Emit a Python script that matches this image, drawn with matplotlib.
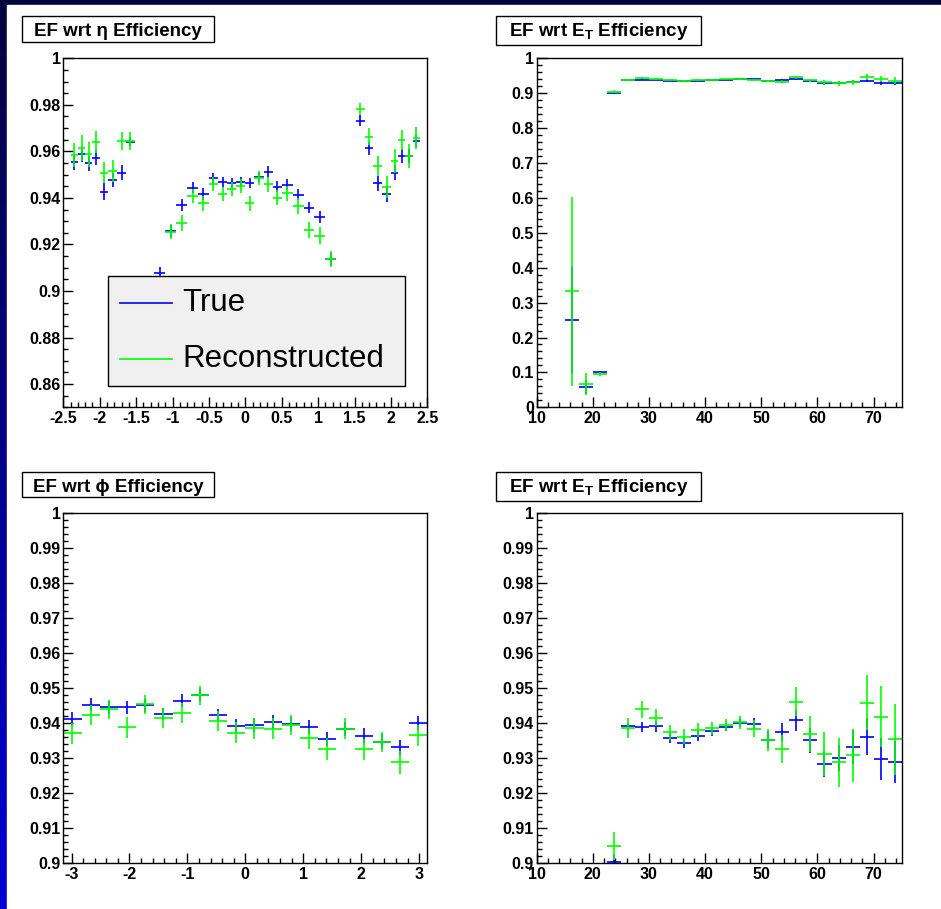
import numpy as np
import matplotlib
matplotlib.use('Agg')
import matplotlib.pyplot as plt
from matplotlib.patches import Rectangle
from matplotlib.lines import Line2D
from matplotlib.ticker import MultipleLocator, FuncFormatter

plt.rcParams['font.family'] = ['Liberation Sans', 'DejaVu Sans']
plt.rcParams['mathtext.fontset'] = 'custom'
plt.rcParams['mathtext.rm'] = 'Liberation Sans:bold'
plt.rcParams['mathtext.bf'] = 'Liberation Sans:bold'
plt.rcParams['mathtext.it'] = 'Liberation Sans:bold:italic'

W, H = 941, 909

# eta binning (crack bins have no points)
eta_edges = [-2.4, -2.3, -2.2, -2.1, -2.0, -1.88, -1.76, -1.64, -1.52, -1.25,
             -1.1, -0.95, -0.8, -0.65, -0.5, -0.375, -0.25, -0.125, 0.0,
             0.125, 0.25, 0.375, 0.5, 0.65, 0.8, 0.95, 1.1, 1.25, 1.52,
             1.64, 1.76, 1.88, 2.0, 2.1, 2.2, 2.3, 2.4]
eta_true = [0.9556, 0.9587, 0.9549, 0.9573, 0.9427, 0.9477, 0.9509, 0.9642, np.nan,
            0.9079, 0.9259, 0.9370, 0.9444, 0.9417, 0.9484, 0.9467, 0.9463, 0.9467,
            0.9463, 0.9491, 0.9513, 0.9448, 0.9456, 0.9413, 0.9358, 0.9317, 0.9136,
            np.nan, 0.9732, 0.9613, 0.9463, 0.9415, 0.9509, 0.9580, 0.9580, 0.9646]
eta_true_err = [0.0034, 0.0032, 0.0032, 0.0032, 0.0036, 0.0032, 0.0032, 0.0020, np.nan,
                0.0025, 0.0025, 0.0025, 0.0023, 0.0024, 0.0022, 0.0022, 0.0022, 0.0022,
                0.0022, 0.0022, 0.0022, 0.0023, 0.0024, 0.0024, 0.0025, 0.0026, 0.0026,
                np.nan, 0.0023, 0.0028, 0.0032, 0.0033, 0.0032, 0.0030, 0.0030, 0.0026]
eta_reco = [0.9585, 0.9616, 0.9587, 0.9640, 0.9509, 0.9516, 0.9645, 0.9645, np.nan,
            0.8990, 0.9255, 0.9292, 0.9408, 0.9377, 0.9458, 0.9417, 0.9437, 0.9451,
            0.9377, 0.9484, 0.9458, 0.9401, 0.9420, 0.9365, 0.9262, 0.9238, 0.9136,
            np.nan, 0.9782, 0.9663, 0.9539, 0.9446, 0.9559, 0.9649, 0.9580, 0.9656]
eta_reco_err = [0.0053, 0.0056, 0.0053, 0.0046, 0.0046, 0.0047, 0.0040, 0.0039, np.nan,
                0.0040, 0.0033, 0.0033, 0.0032, 0.0033, 0.0030, 0.0030, 0.0030, 0.0030,
                0.0032, 0.0030, 0.0032, 0.0033, 0.0033, 0.0033, 0.0036, 0.0037, 0.0035,
                np.nan, 0.0026, 0.0036, 0.0043, 0.0047, 0.0051, 0.0043, 0.0050, 0.0047]

# phi binning: 20 bins over -pi..pi
phi_edges = np.linspace(-np.pi, np.pi, 21)
phi_true = [0.9411, 0.9452, 0.9445, 0.9445, 0.9450, 0.9425, 0.9464, 0.9481, 0.9422, 0.9391,
            0.9393, 0.9404, 0.9398, 0.9388, 0.9354, 0.9383, 0.9364, 0.9346, 0.9330, 0.9401]
phi_true_err = [0.0019, 0.0019, 0.0019, 0.0019, 0.0019, 0.0018, 0.0019, 0.0018, 0.0019, 0.0020,
                0.0020, 0.0020, 0.0020, 0.0020, 0.0021, 0.0020, 0.0021, 0.0021, 0.0021, 0.0020]
phi_reco = [0.9370, 0.9423, 0.9439, 0.9387, 0.9453, 0.9415, 0.9428, 0.9479, 0.9406, 0.9372,
            0.9385, 0.9384, 0.9394, 0.9356, 0.9326, 0.9383, 0.9324, 0.9346, 0.9287, 0.9365]
phi_reco_err = [0.0029, 0.0029, 0.0028, 0.0029, 0.0028, 0.0029, 0.0029, 0.0027, 0.0029, 0.0030,
                0.0030, 0.0030, 0.0029, 0.0030, 0.0031, 0.0030, 0.0031, 0.0029, 0.0032, 0.0030]

# ET binning: 2.5 GeV bins from 10 to 75
et_edges = np.arange(10.0, 75.1, 2.5)
et_true = [np.nan, np.nan, 0.250, 0.059, 0.1003, 0.9003, 0.9391, 0.9389, 0.9390, 0.9358,
           0.9342, 0.9363, 0.9376, 0.9388, 0.9401, 0.9397, 0.9352, 0.9374, 0.9407, 0.9350,
           0.9283, 0.9300, 0.9331, 0.9361, 0.9296, 0.9289]
et_true_err = [np.nan, np.nan, 0.153, 0.020, 0.004, 0.002, 0.0010, 0.0015, 0.0015, 0.0014,
               0.0014, 0.0014, 0.0013, 0.0012, 0.0013, 0.0018, 0.0024, 0.0026, 0.0030, 0.0035,
               0.0038, 0.0038, 0.0048, 0.0052, 0.0060, 0.0060]
et_reco = [np.nan, np.nan, 0.333, 0.066, 0.0955, 0.9048, 0.9386, 0.9439, 0.9415, 0.9373,
           0.9361, 0.9380, 0.9385, 0.9393, 0.9402, 0.9384, 0.9352, 0.9325, 0.9461, 0.9368,
           0.9311, 0.9288, 0.9308, 0.9458, 0.9418, 0.9353]
et_reco_err = [np.nan, np.nan, 0.271, 0.032, 0.006, 0.004, 0.0029, 0.0025, 0.0024, 0.0021,
               0.0021, 0.0021, 0.0019, 0.0017, 0.0019, 0.0023, 0.0031, 0.0040, 0.0042, 0.0052,
               0.0064, 0.0070, 0.0076, 0.0078, 0.0088, 0.0102]

BLUE = '#0000ff'
GREEN = '#00ff00'

fig = plt.figure(figsize=(W / 100, H / 100), dpi=100)

# slide background: blue gradient with white page on top
bg = fig.add_axes([0, 0, 1, 1], zorder=-10)
grad = np.linspace(0, 1, 256)[:, None, None]
top_col = np.array([0.02, 0.02, 0.24])
bot_col = np.array([0.0, 0.0, 0.84])
bg.imshow(top_col + grad * (bot_col - top_col), extent=[0, 1, 0, 1], aspect='auto')
bg.add_patch(Rectangle((7 / W, 0), 1, 1 - 5 / H, color='white'))
bg.set_xlim(0, 1)
bg.set_ylim(0, 1)
bg.axis('off')


def px_axes(x0, y0, x1, y1):
    return fig.add_axes([x0 / W, 1 - y1 / H, (x1 - x0) / W, (y1 - y0) / H])


def fig_box(x0, y0, x1, y1, fc='white'):
    fig.patches.append(Rectangle((x0 / W, 1 - y1 / H), (x1 - x0) / W, (y1 - y0) / H,
                                 transform=fig.transFigure, facecolor=fc,
                                 edgecolor='black', linewidth=1.0, zorder=5))


fmt = FuncFormatter(lambda v, p: '%g' % (round(v, 4) + 0.0))


def style(ax, xlim, ylim, xmaj, xmin, ymaj, ymin):
    ax.set_xlim(*xlim)
    ax.set_ylim(*ylim)
    ax.xaxis.set_major_locator(MultipleLocator(xmaj))
    ax.xaxis.set_minor_locator(MultipleLocator(xmin))
    ax.yaxis.set_major_locator(MultipleLocator(ymaj))
    ax.yaxis.set_minor_locator(MultipleLocator(ymin))
    ax.xaxis.set_major_formatter(fmt)
    ax.yaxis.set_major_formatter(fmt)
    ax.tick_params(which='both', direction='in', top=False, right=False, width=1.0)
    ax.tick_params(which='major', length=7.5, labelsize=11.5, pad=2)
    ax.tick_params(axis='x', which='major', pad=3)
    ax.tick_params(which='minor', length=3.8)
    for lab in ax.get_xticklabels() + ax.get_yticklabels():
        lab.set_fontweight('bold')
    for sp in ax.spines.values():
        sp.set_linewidth(1.0)


def draw_eff(ax, edges, true, true_err, reco, reco_err):
    e = np.asarray(edges, dtype=float)
    c = 0.5 * (e[1:] + e[:-1])
    hw = 0.5 * (e[1:] - e[:-1])
    ax.errorbar(c, true, xerr=hw, yerr=true_err, fmt='none', ecolor=BLUE,
                elinewidth=1.2, capsize=0)
    ax.errorbar(c, reco, xerr=hw, yerr=reco_err, fmt='none', ecolor=GREEN,
                elinewidth=1.2, capsize=0)


# top left: eta
ax1 = px_axes(63.3, 58.3, 427.3, 407.3)
draw_eff(ax1, eta_edges, eta_true, eta_true_err, eta_reco, eta_reco_err)
style(ax1, (-2.5, 2.5), (0.85, 1.0), 0.5, 0.1, 0.02, 0.005)

# top right: ET full range
ax2 = px_axes(536.7, 58.3, 901.7, 407.3)
draw_eff(ax2, et_edges, et_true, et_true_err, et_reco, et_reco_err)
style(ax2, (10, 75), (0, 1.0), 10, 2, 0.1, 0.02)

# bottom left: phi
ax3 = px_axes(63.3, 513.3, 427.3, 862.7)
draw_eff(ax3, phi_edges, phi_true, phi_true_err, phi_reco, phi_reco_err)
style(ax3, (-np.pi, np.pi), (0.9, 1.0), 1, 0.2, 0.01, 0.002)

# bottom right: ET zoomed
ax4 = px_axes(536.7, 513.3, 901.7, 862.7)
draw_eff(ax4, et_edges, et_true, et_true_err, et_reco, et_reco_err)
style(ax4, (10, 75), (0.9, 1.0), 10, 2, 0.01, 0.002)

# title boxes
titles = [
    ((22, 16, 214, 42), 36.0, 'EF wrt η Efficiency'),
    ((496, 16, 701, 45), 36.0, r'EF wrt E$_{\mathrm{T}}$ Efficiency'),
    ((22, 472, 214, 497), 491.5, 'EF wrt ϕ Efficiency'),
    ((496, 472, 701, 500.5), 491.5, r'EF wrt E$_{\mathrm{T}}$ Efficiency'),
]
for (x0, y0, x1, y1), base, txt in titles:
    fig_box(x0, y0, x1, y1)
    fig.text((x0 + x1) / 2 / W, 1 - base / H, txt, ha='center', va='baseline',
             fontsize=13.5, fontweight='bold', zorder=6)

# legend on the eta plot
fig_box(108.3, 276.3, 405, 386, fc='#f0f0f0')
for yy, col, lab in [(303.3, BLUE, 'True'), (359.0, GREEN, 'Reconstructed')]:
    fig.lines.append(Line2D([120 / W, 171.7 / W], [1 - yy / H, 1 - yy / H],
                            transform=fig.transFigure, color=col, lw=1.2, zorder=6))
    fig.text(182.7 / W, 1 - yy / H, lab, ha='left', va='center', fontsize=22.5, zorder=6)

fig.savefig('out.png', dpi=100)
